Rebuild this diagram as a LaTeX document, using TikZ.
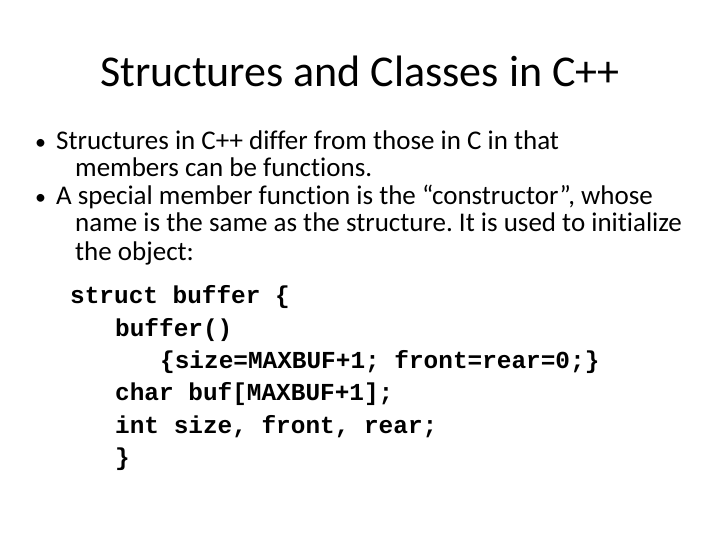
\documentclass[tikz,border=0pt]{standalone}
\usepackage{fontspec}
\setmainfont[Ligatures={NoCommon}]{Carlito}
\setmonofont{Liberation Mono}
\frenchspacing
\begin{document}
\begin{tikzpicture}[x=1pt,y=-1pt,
  tl/.style={anchor=base west,inner sep=0pt,font=\fontsize{27}{30}\selectfont},
  bl/.style={anchor=base west,inner sep=0pt,font=\fontsize{22}{26}\selectfont},
  cd/.style={anchor=base west,inner sep=0pt,font=\fontsize{24.4}{28}\selectfont\ttfamily\bfseries}]
\useasboundingbox[fill=white] (0,0) rectangle (720,540);
\node[anchor=base,inner sep=0pt,font=\fontsize{44}{50}\selectfont] (title) at (360,87) {Structures and Classes in C++};
\node[bl] (b1) at (35,150) {•};
\node[tl] (l1) at (56,150) {Structures in C++ differ from those in C in that};
\node[tl] (l2) at (75,177) {members can be functions.};
\node[bl] (b2) at (35,205) {•};
\node[tl] (l3) at (56,205) {A special member function is the “constructor”, whose};
\node[tl] (l4) at (75,232) {name is the same as the structure. It is used to initialize};
\node[tl] (l5) at (75,260) {the object:};
\node[cd] (c1) at (70,303) {struct buffer \{};
\node[cd] (c2) at (115,336) {buffer()};
\node[cd] (c3) at (160,368) {\{size=MAXBUF+1; front=rear=0;\}};
\node[cd] (c4) at (115,400) {char buf[MAXBUF+1];};
\node[cd] (c5) at (115,433) {int size, front, rear;};
\node[cd] (c6) at (115,465) {\}};
\end{tikzpicture}
\end{document}
